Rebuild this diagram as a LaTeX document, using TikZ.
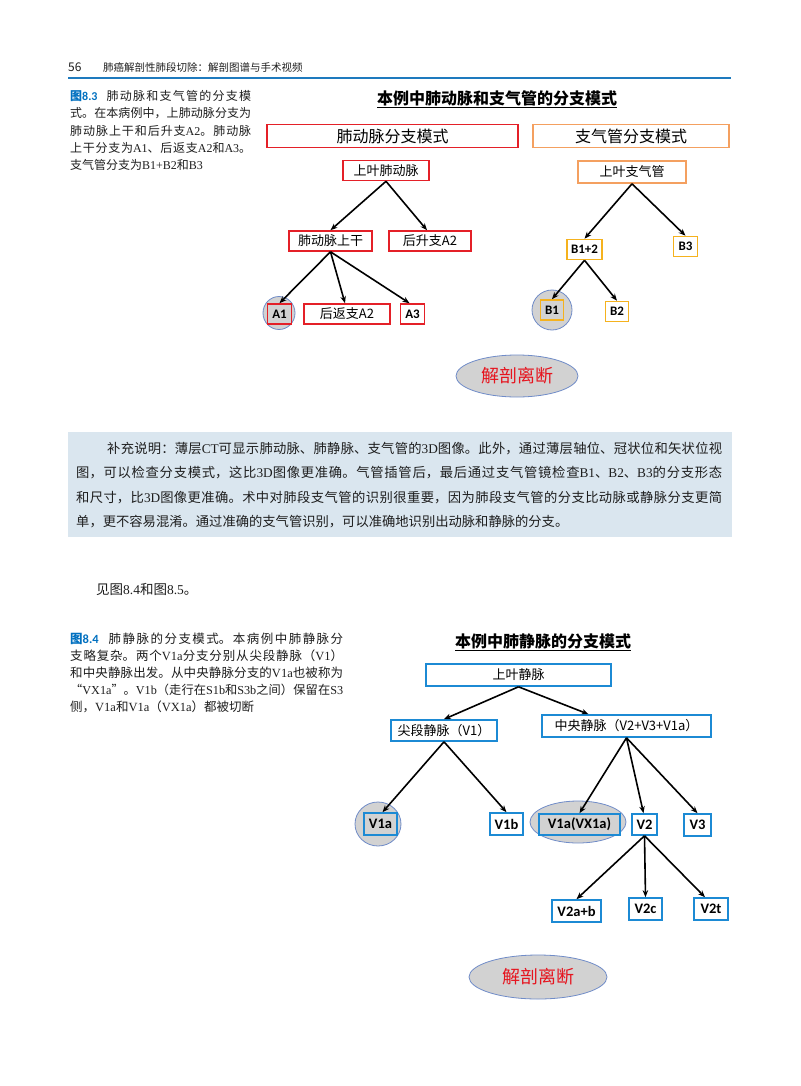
\documentclass[tikz,border=0pt]{standalone}
\usepackage{fontspec}
\setmainfont{Noto Sans CJK SC}
\newfontfamily\calib{Carlito}
\newfontfamily\tms{Liberation Serif}
\usetikzlibrary{arrows.meta,shapes.geometric}
\XeTeXlinebreaklocale "zh"
\XeTeXlinebreakskip=0pt plus 4pt minus 0.7pt
\definecolor{boxred}{RGB}{228,32,40}
\definecolor{hdrorange}{RGB}{244,160,96}
\definecolor{bgold}{RGB}{245,178,30}
\definecolor{boxblue}{RGB}{28,138,212}
\definecolor{cutgray}{RGB}{210,210,210}
\definecolor{cutblue}{RGB}{112,140,200}
\definecolor{notebg}{RGB}{218,230,239}
\definecolor{hdrblue}{RGB}{30,122,190}
\definecolor{capblue}{RGB}{0,112,192}
\definecolor{txtgray}{RGB}{30,30,30}
\definecolor{cutred}{RGB}{230,20,30}
\newcommand\fs[1]{\fontsize{#1}{#1}\selectfont}
\newcommand\jl[2]{\parbox{#1}{\tolerance=9999\hbadness=10000\parfillskip=0pt\relax #2}}
\newcommand\capb[1]{{\color{capblue}\bfseries #1}}
\begin{document}
\begin{tikzpicture}[x=1pt,y=-1pt,
  txt/.style={anchor=west,inner sep=0pt,text=txtgray},
  rbox/.style={draw=boxred,line width=1.6pt,fill=white,inner sep=0pt,font=\fs{13}},
  obox/.style={draw=hdrorange,line width=1.6pt,fill=white,inner sep=0pt,font=\fs{13}},
  gbox/.style={draw=bgold,line width=1.6pt,fill=white,inner sep=0pt,font=\calib\bfseries\fs{13}},
  bbox/.style={draw=boxblue,line width=1.6pt,fill=white,inner sep=0pt,font=\fs{13}},
  lbl/.style={font=\calib\bfseries\fs{14.5}},
  cut/.style={ellipse,draw=cutblue,fill=cutgray,line width=0.8pt,inner sep=0pt},
  cutbox/.style={fill=cutgray},
  arr/.style={-{Stealth[length=7pt,width=5.5pt]},line width=1.6pt,black},
  ttl/.style={inner sep=0pt,font=\bfseries\fs{16},text=black}]
\useasboundingbox (0,0) rectangle (800,1086);
\fill[white] (0,0) rectangle (800,1086);
% header
\node[txt,font=\fs{12}] (pg) at (68,67) {56};
\node[txt,font=\fs{10.5}] (ht) at (103,67) {肺癌解剖性肺段切除：解剖图谱与手术视频};
\draw[hdrblue,line width=1.4pt] (68,78) -- (731,78);
% caption 8.3
\node[txt,font=\fs{12}] (c31) at (70,96) {\jl{181pt}{\capb{图{\calib 8.3}}\hspace{9pt}肺动脉和支气管的分支模}};
\node[txt,font=\fs{12}] (c32) at (70,113) {\jl{181pt}{式。在本病例中，上肺动脉分支为}};
\node[txt,font=\fs{12}] (c33) at (70,131) {\jl{181pt}{肺动脉上干和后升支{\tms A2}。肺动脉}};
\node[txt,font=\fs{12}] (c34) at (70,148) {\jl{181pt}{上干分支为{\tms A1}、后返支{\tms A2}和{\tms A3}。}};
\node[txt,font=\fs{12}] (c35) at (70,165) {支气管分支为{\tms B1+B2}和{\tms B3}};
% top diagram
\node[ttl] (t1) at (497,99) {\underline{本例中肺动脉和支气管的分支模式}};
\node[rbox,font=\fs{16},minimum width=251,minimum height=23] (hA) at (392.5,136) {肺动脉分支模式};
\node[obox,font=\fs{16},minimum width=196,minimum height=23] (hB) at (631,136) {支气管分支模式};
\node[rbox,minimum width=86,minimum height=20] (aroot) at (386,170.5) {上叶肺动脉};
\node[obox,minimum width=108,minimum height=22] (broot) at (632,172) {上叶支气管};
\node[rbox,minimum width=83,minimum height=20] (atrunk) at (330.5,241) {肺动脉上干};
\node[rbox,minimum width=82,minimum height=20] (aup) at (430,241) {后升支A2};
\node[gbox,minimum width=35,minimum height=20] (b12) at (584.5,249.5) {B1+2};
\node[gbox,minimum width=24,minimum height=20] (b3) at (685.5,246.5) {B3};
\node[cut,minimum width=32,minimum height=33] (a1c) at (279,313) {};
\node[cut,minimum width=40,minimum height=40] (b1c) at (552,310) {};
\node[rbox,cutbox,font=\calib\bfseries\fs{13},minimum width=24,minimum height=20] (a1) at (279.5,314) {A1};
\node[rbox,minimum width=86,minimum height=20] (aback) at (347,314) {后返支A2};
\node[rbox,font=\calib\bfseries\fs{13},minimum width=24,minimum height=20] (a3) at (412.5,314) {A3};
\node[gbox,cutbox,minimum width=23,minimum height=20] (b1) at (552,310) {B1};
\node[gbox,minimum width=23,minimum height=20] (b2) at (617,311.5) {B2};
\node[cut,minimum width=122,minimum height=42,font=\fs{18},text=cutred] (e1) at (517,376) {解剖离断};
\draw[arr] (aroot.south) -- (atrunk.north);
\draw[arr] (aroot.south) -- ([xshift=-3pt]aup.north);
\draw[arr] (atrunk.south) -- (a1.north);
\draw[arr] (atrunk.south) -- ([xshift=-2pt]aback.north);
\draw[arr] (atrunk.south) -- ([xshift=-3pt]a3.north);
\draw[arr] (broot.south) -- (b12.north);
\draw[arr] (broot.south) -- (b3.north);
\draw[arr] (b12.south) -- (b1.north);
\draw[arr] (b12.south) -- (b2.north);
% note box
\node[fill=notebg,minimum width=664,minimum height=105,anchor=north west,inner sep=0pt] (nb) at (68,432) {};
\node[txt,font=\fs{13.3}] (n1) at (107,449) {\jl{615pt}{补充说明：薄层{\tms CT}可显示肺动脉、肺静脉、支气管的{\tms 3D}图像。此外，通过薄层轴位、冠状位和矢状位视}};
\node[txt,font=\fs{13.3}] (n2) at (76,473) {\jl{646pt}{图，可以检查分支模式，这比{\tms 3D}图像更准确。气管插管后，最后通过支气管镜检查{\tms B1}、{\tms B2}、{\tms B3}的分支形态}};
\node[txt,font=\fs{13.3}] (n3) at (76,498) {\jl{646pt}{和尺寸，比{\tms 3D}图像更准确。术中对肺段支气管的识别很重要，因为肺段支气管的分支比动脉或静脉分支更简}};
\node[txt,font=\fs{13.3}] (n4) at (76,522) {单，更不容易混淆。通过准确的支气管识别，可以准确地识别出动脉和静脉的分支。};
\node[txt,font=\fs{13.5}] (see) at (96,589) {见图{\tms 8.4}和图{\tms 8.5}。};
% caption 8.4
\node[txt,font=\fs{12.5}] (c41) at (70,639) {\jl{273pt}{\capb{图{\calib 8.4}}\hspace{10pt}肺静脉的分支模式。本病例中肺静脉分}};
\node[txt,font=\fs{12.5}] (c42) at (70,656) {\jl{273pt}{支略复杂。两个{\tms V1a}分支分别从尖段静脉（{\tms V1}）}};
\node[txt,font=\fs{12.5}] (c43) at (70,673) {\jl{273pt}{和中央静脉出发。从中央静脉分支的{\tms V1a}也被称为}};
\node[txt,font=\fs{12.2}] (c44) at (70,690) {\jl{273pt}{“{\tms VX1a}”。{\tms V1b}（走行在{\tms S1b}和{\tms S3b}之间）保留在{\tms S3}}};
\node[txt,font=\fs{12.5}] (c45) at (70,707) {侧，{\tms V1a}和{\tms V1a}（{\tms VX1a}）都被切断};
% bottom diagram
\node[ttl] (t2) at (543,642) {\underline{本例中肺静脉的分支模式}};
\node[bbox,minimum width=185,minimum height=22] (vroot) at (518.5,675) {上叶静脉};
\node[bbox,minimum width=106,minimum height=21] (v1) at (444,730.5) {尖段静脉（V1）};
\node[bbox,minimum width=169,minimum height=22] (vc) at (626.5,726) {中央静脉（V2+V3+V1a）};
\node[cut,minimum width=46,minimum height=44] (v1ac) at (378,824) {};
\node[cut,minimum width=96,minimum height=42] (vx1ac) at (578,822) {};
\node[bbox,cutbox,lbl,minimum width=33,minimum height=22] (v1a) at (380.5,824) {V1a};
\node[bbox,lbl,minimum width=33,minimum height=22] (v1b) at (506.5,824) {V1b};
\node[bbox,cutbox,lbl,minimum width=81,minimum height=21] (vx1a) at (579.5,824.5) {V1a(VX1a)};
\node[bbox,lbl,minimum width=25,minimum height=21] (v2) at (644.5,824.5) {V2};
\node[bbox,lbl,minimum width=27,minimum height=22] (v3) at (697.5,825) {V3};
\node[bbox,lbl,minimum width=49,minimum height=22] (v2ab) at (576.5,911) {V2a+b};
\node[bbox,lbl,minimum width=33,minimum height=22] (v2c) at (645.5,909) {V2c};
\node[bbox,lbl,minimum width=34,minimum height=22] (v2t) at (711,909) {V2t};
\node[cut,minimum width=138,minimum height=44,font=\fs{18},text=cutred] (e2) at (538,977) {解剖离断};
\draw[arr] (vroot.south) -- (v1.north);
\draw[arr] (vroot.south) -- ([xshift=-38pt]vc.north);
\draw[arr] (v1.south) -- ([xshift=2pt]v1a.north);
\draw[arr] (v1.south) -- (v1b.north);
\draw[arr] (vc.south) -- (vx1a.north);
\draw[arr] (vc.south) -- ([xshift=-1pt]v2.north);
\draw[arr] (vc.south) -- (v3.north);
\draw[arr] (v2.south) -- (v2ab.north);
\draw[arr] (v2.south) -- (v2c.north);
\draw[arr] (v2.south) -- ([xshift=-6pt]v2t.north);
\end{tikzpicture}
\end{document}
